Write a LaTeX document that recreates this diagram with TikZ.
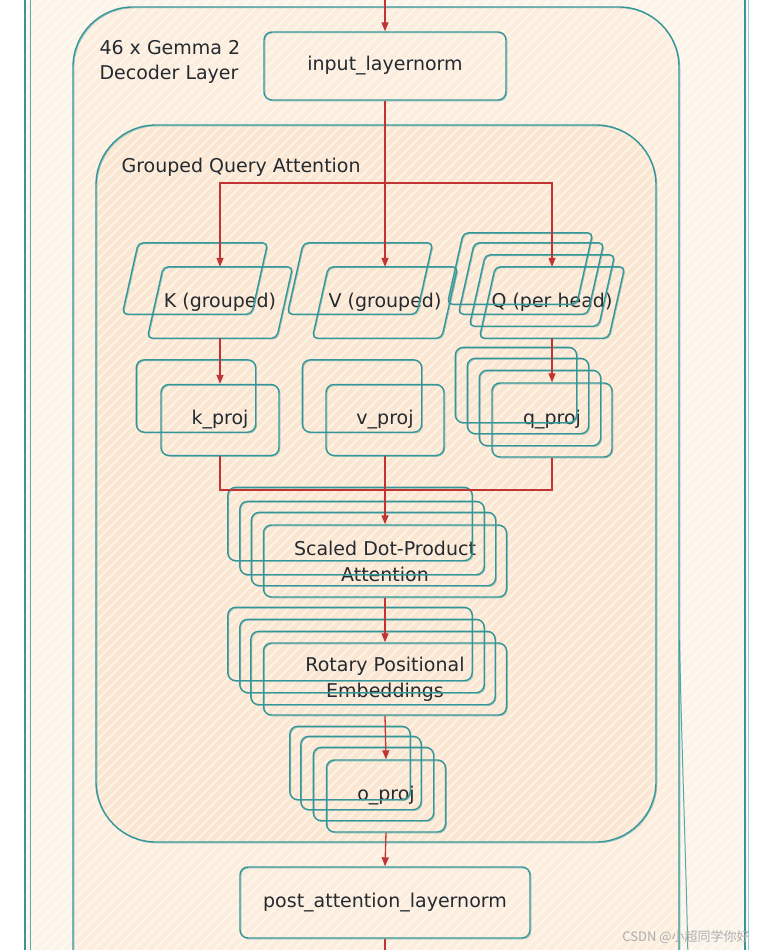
\documentclass[tikz,border=0pt]{standalone}
\usepackage{fontspec}
\setmainfont{DejaVu Sans}
\newfontfamily\cjkfont{Noto Sans CJK SC}
\usetikzlibrary{arrows.meta}
\definecolor{tealc}{RGB}{52,150,152}
\definecolor{redc}{RGB}{192,52,52}
\definecolor{txtc}{RGB}{36,42,48}
\definecolor{fillA}{RGB}{253,244,233}
\definecolor{fillB}{RGB}{252,237,220}
\definecolor{fillC}{RGB}{251,231,209}
\tikzset{
  sk/.style={draw=tealc, line width=1.4pt,
    postaction={draw=tealc, line width=0.7pt, draw opacity=0.55,
      transform canvas={shift={(0.9pt,-0.9pt)}}}},
  box/.style={rectangle, sk, rounded corners=8pt, inner sep=0pt, align=center},
  pnode/.style={rectangle, inner sep=0pt, minimum width=145pt, minimum height=71pt},
  arr/.style={draw=redc, line width=1.3pt, -{Triangle[length=9pt,width=7pt]}},
  ln/.style={draw=redc, line width=1.3pt},
  hatchline/.style={draw=white, line width=1.6pt, draw opacity=0.6},
}
\newcommand\pg[3]{\draw[sk, rounded corners=5pt]
  ([shift={(#2+16,#3)}]#1.north west) -- ([shift={(#2,#3)}]#1.north east) --
  ([shift={(#2-16,#3)}]#1.south east) -- ([shift={(#2,#3)}]#1.south west) -- cycle;}
\newcommand\rb[3]{\draw[sk, rounded corners=8pt]
  ([shift={(#2,#3)}]#1.north west) rectangle ([shift={(#2,#3)}]#1.south east);}
\newcommand\hatch[1]{\foreach \i in {-950,-940,...,770}{\draw[hatchline] ({\i+#1},950) -- ({\i+#1+950},0);}}
\begin{document}
\begin{tikzpicture}[x=1pt, y=-1pt,
  every node/.style={font=\fontsize{19}{26}\selectfont, text=txtc}]
\useasboundingbox (0,0) rectangle (765,950);
\clip (0,0) rectangle (765,950);
% background layers
\begin{scope}
  \clip (25,-20) rectangle (747,970);
  \fill[fillA] (25,-20) rectangle (747,970);
  \hatch{0}
\end{scope}
\begin{scope}
  \clip[rounded corners=60pt] (73,7) rectangle (679,1060);
  \fill[fillB] (0,0) rectangle (765,950);
  \hatch{4}
\end{scope}
\begin{scope}
  \clip[rounded corners=60pt] (96,125) rectangle (656,842);
  \fill[fillC] (0,0) rectangle (765,950);
  \hatch{7}
\end{scope}
% frames
\draw[draw=tealc, line width=1.4pt] (25,-20) -- (25,970);
\draw[draw=tealc, line width=1.2pt, draw opacity=0.8] (30.5,-20) -- (30.5,970);
\draw[draw=tealc, line width=1.6pt] (745,-20) -- (745,970);
\draw[draw=tealc, line width=0.8pt, draw opacity=0.5] (748,-20) -- (748,970);
\draw[sk, rounded corners=60pt] (73,7) rectangle (679,1060);
\draw[draw=tealc, line width=1pt, draw opacity=0.8] (679.5,640) .. controls (682,760) and (686,860) .. (688,960);
\draw[sk, rounded corners=60pt] (96,125) rectangle (656,842);
% labels
\node[anchor=west, align=left, font=\fontsize{19}{25}\selectfont] (dlab) at (96,62) {46 x Gemma 2\\Decoder Layer};
\node[anchor=west] (glab) at (118,167) {Grouped Query Attention};
% input layernorm
\node[box, minimum width=242pt, minimum height=68pt] (inl) at (385,66) {input\_layernorm};
% K V Q
\node[pnode] (k) at (220,302.5) {K (grouped)};
\node[pnode] (v) at (385,302.5) {V (grouped)};
\node[pnode] (q) at (552,302.5) {Q (per head)};
\pg{k}{-25}{-24}\pg{k}{0}{0}
\pg{v}{-25}{-24}\pg{v}{0}{0}
\pg{q}{-32}{-34}\pg{q}{-21}{-24}\pg{q}{-10}{-12}\pg{q}{0}{0}
% projections
\node[box, minimum width=118pt, minimum height=71pt] (kp) at (220,420) {k\_proj};
\node[box, minimum width=118pt, minimum height=71pt] (vp) at (385,420) {v\_proj};
\node[box, minimum width=120pt, minimum height=74pt] (qp) at (552,420) {q\_proj};
\rb{kp}{-24}{-24}
\rb{vp}{-23}{-24}
\rb{qp}{-36}{-35}\rb{qp}{-24}{-24}\rb{qp}{-12}{-12}
% attention
\node[box, minimum width=243pt, minimum height=72pt] (sdpa) at (385,561) {Scaled Dot-Product\\Attention};
\rb{sdpa}{-35}{-37}\rb{sdpa}{-23}{-23}\rb{sdpa}{-11.5}{-12}
\node[box, minimum width=243pt, minimum height=72pt] (rope) at (385,679) {Rotary Positional\\Embeddings};
\rb{rope}{-35}{-35}\rb{rope}{-23}{-23}\rb{rope}{-12}{-11}
\node[box, minimum width=119pt, minimum height=72pt] (op) at (386,796) {o\_proj};
\rb{op}{-36}{-33}\rb{op}{-25}{-23}\rb{op}{-12.5}{-12}
\node[box, minimum width=290pt, minimum height=71pt] (post) at (385,902.5) {post\_attention\_layernorm};
% connectors
\coordinate (src) at (385,-5);
\coordinate (br) at (385,183);
\coordinate (jn) at (385,490);
\coordinate (out) at (385,960);
\draw[arr] (src) -- (inl.north);
\draw[arr] (inl.south) -- (v.north);
\draw[arr] (br) -| (k.north);
\draw[arr] (br) -| (q.north);
\draw[arr] (k.south) -- (kp.north);
\draw[arr] (q.south) -- (qp.north);
\draw[ln] (kp.south) |- (jn);
\draw[ln] (qp.south) |- (jn);
\draw[arr] (vp.south) -- (sdpa.north);
\draw[arr] (sdpa.south) -- (rope.north);
\draw[arr] (rope.south) -- (op.north);
\draw[arr] (op.south) -- (post.north);
\draw[ln] (post.south) -- (out);
% watermark
\node[font=\cjkfont\fontsize{13}{13}\selectfont, text=black!32] (wm) at (686,937) {CSDN @小超同学你好};
\end{tikzpicture}
\end{document}
